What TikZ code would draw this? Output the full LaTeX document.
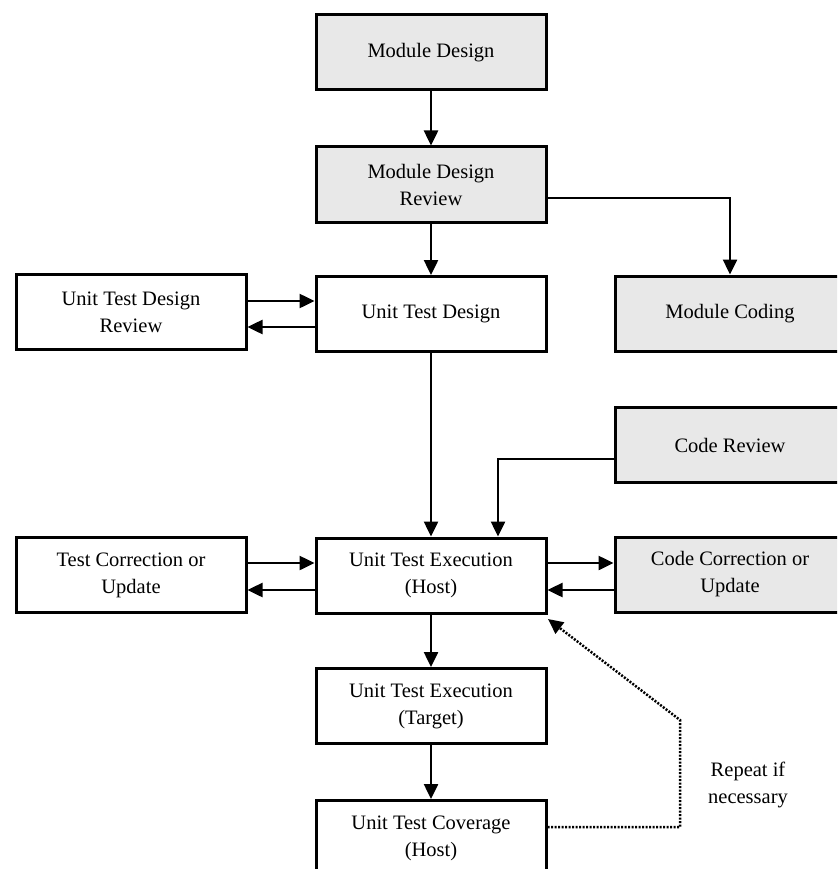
\documentclass[tikz,border=0pt]{standalone}
\usepackage{fontspec}
\setmainfont{Liberation Serif}
\usetikzlibrary{arrows.meta}
\definecolor{boxgray}{RGB}{232,232,232}
\begin{document}
\begin{tikzpicture}[x=1pt,y=-1pt,
  box/.style={draw=black, line width=3pt, minimum width=230pt, minimum height=75pt,
    align=center, inner sep=0pt, font=\fontsize{20.5}{27}\selectfont},
  gbox/.style={box, fill=boxgray},
  arr/.style={line width=2.5pt, -{Triangle[length=15pt,width=14pt]}},
  dotarr/.style={line width=2.5pt, dash pattern=on 2pt off 1.5pt, -{Triangle[length=15pt,width=14pt]}},
  lbl/.style={align=center, inner sep=0pt, font=\fontsize{20.5}{27}\selectfont}]
\useasboundingbox (0,0) rectangle (837,869);
\clip (0,0) rectangle (837,869);

\node[gbox] (md)   at (431,52.5)  {Module Design};
\node[gbox] (mdr)  at (431,184.5) {Module Design\\Review};
\node[box]  (utd)  at (431,314)   {Unit Test Design};
\node[box]  (utdr) at (131,312)   {Unit Test Design\\Review};
\node[gbox] (mc)   at (730,313.5) {Module Coding};
\node[gbox] (cr)   at (730,445)   {Code Review};
\node[box]  (ute)  at (431,575.5) {Unit Test Execution\\(Host)};
\node[box]  (tcu)  at (131,575)   {Test Correction or\\Update};
\node[gbox] (ccu)  at (730,574.5) {Code Correction or\\Update};
\node[box]  (utet) at (431,706)   {Unit Test Execution\\(Target)};
\node[box]  (utc)  at (431,838)   {Unit Test Coverage\\(Host)};
\node[lbl]  (rep)  at (748,785)   {Repeat if\\necessary};

\coordinate (y198) at (0,198);
\coordinate (y301) at (0,301);
\coordinate (y327) at (0,327);
\coordinate (y459) at (0,459);
\coordinate (x498) at (498,0);
\coordinate (y563) at (0,563);
\coordinate (y590) at (0,590);
\coordinate (y827) at (0,827);
\coordinate (x680) at (680,0);
\coordinate (y720) at (0,720);
\coordinate (tip)  at (548,619);

\draw[arr] (md) -- (mdr);
\draw[arr] (mdr) -- (utd);
\draw[arr] (mdr.east |- y198) -| (mc.north);
\draw[arr] (utdr.east |- y301) -- (utd.west |- y301);
\draw[arr] (utd.west |- y327) -- (utdr.east |- y327);
\draw[arr] (utd) -- (ute);
\draw[arr] (cr.west |- y459) -| (x498 |- ute.north);
\draw[arr] (tcu.east |- y563) -- (ute.west |- y563);
\draw[arr] (ute.west |- y590) -- (tcu.east |- y590);
\draw[arr] (ute.east |- y563) -- (ccu.west |- y563);
\draw[arr] (ccu.west |- y590) -- (ute.east |- y590);
\draw[arr] (ute) -- (utet);
\draw[arr] (utet) -- (utc);
\draw[dotarr] (utc.east |- y827) -- (x680 |- y827) -- (x680 |- y720) -- (tip);
\end{tikzpicture}
\end{document}
